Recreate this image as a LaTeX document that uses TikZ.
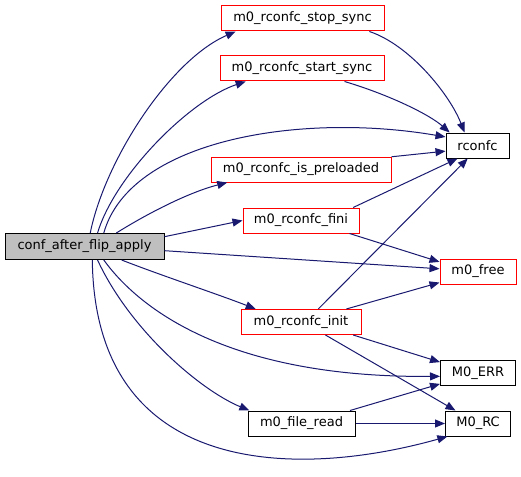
\documentclass[tikz,border=0pt]{standalone}
\usepackage{fontspec}
\setmainfont{DejaVu Sans}
\usetikzlibrary{arrows.meta,positioning,calc}
\definecolor{DoxEdge}{RGB}{25,25,112}
\definecolor{DoxGrey}{RGB}{191,191,191}
\definecolor{DoxRed}{RGB}{255,0,0}

\begin{document}
\begin{tikzpicture}[x=1pt, y=-1pt, font=\fontsize{13}{15}\selectfont]
  \tikzstyle{fn} = [rectangle, draw=black, fill=white, inner sep=0pt, minimum height=25pt, line width=1pt]
  \tikzstyle{fnred} = [fn, draw=DoxRed]
  \tikzstyle{call} = [draw=DoxEdge, line width=1pt, -{Triangle[length=10pt,width=8pt]}]

  \useasboundingbox (0,0) rectangle (521,476);

  % caller
  \node [fn, fill=DoxGrey, minimum width=159pt, minimum height=26pt] (conf) at (84.5,246.5) {conf\_after\_flip\_apply};

  % callees, middle column
  \node [fnred, minimum width=163pt] (stop) at (302.5,18.5) {m0\_rconfc\_stop\_sync};
  \node [fnred, minimum width=164pt] (start) at (302,68.5) {m0\_rconfc\_start\_sync};
  \node [fnred, minimum width=180pt] (pre) at (301,169.5) {m0\_rconfc\_is\_preloaded};
  \node [fnred, minimum width=116pt] (fini) at (301,220.5) {m0\_rconfc\_fini};
  \node [fnred, minimum width=120pt] (init) at (301,322) {m0\_rconfc\_init};
  \node [fn, minimum width=107pt] (fread) at (301.5,423.5) {m0\_file\_read};

  % callees, right column
  \node [fn, minimum width=63pt] (rconfc) at (477.5,145.5) {rconfc};
  \node [fnred, minimum width=76pt] (free) at (478,271.5) {m0\_free};
  \node [fn, minimum width=75pt] (err) at (478,373) {M0\_ERR};
  \node [fn, minimum width=65pt] (rc) at (478,423.5) {M0\_RC};

  % calls from conf_after_flip_apply
  \draw [call] (conf.67) .. controls (105,160) and (170,60) .. (stop.-169);
  \draw [call] (conf.46) .. controls (115,175) and (190,100) .. (start.-167);
  \draw [call] (conf.35) .. controls (130,140) and (300,112) .. (rconfc.165);
  \draw [call] (conf.23) .. controls (150,212) and (190,192) .. (pre.-170);
  \draw [call] (conf.7) -- (fini.west);
  \draw [call] (conf.-3.7) -- (free.176);
  \draw [call] (conf.-20) .. controls (160,275) and (220,295) .. (init.164);
  \draw [call] (conf.-35) .. controls (140,310) and (230,378) .. (err.-175);
  \draw [call] (conf.-46) .. controls (130,330) and (200,390) .. (fread.166);
  \draw [call] (conf.-60) .. controls (95,480) and (300,478) .. (rc.-157);

  % further calls
  \draw [call] (stop.-11) .. controls (410,45) and (450,95) .. (rconfc.135);
  \draw [call] (start.-17) .. controls (390,95) and (430,115) .. (rconfc.155);
  \draw [call] (pre.8) -- (rconfc.-170);
  \draw [call] (fini.14) -- (rconfc.-147);
  \draw [call] (fini.-15) -- (free.166);
  \draw [call] (init.37) -- (rconfc.-127);
  \draw [call] (init.16) -- (free.-164);
  \draw [call] (init.-14) -- (err.164);
  \draw [call] (init.-28) -- (rc.150);
  \draw [call] (fread.15) -- (err.-164);
  \draw [call] (fread.east) -- (rc.west);
\end{tikzpicture}
\end{document}
